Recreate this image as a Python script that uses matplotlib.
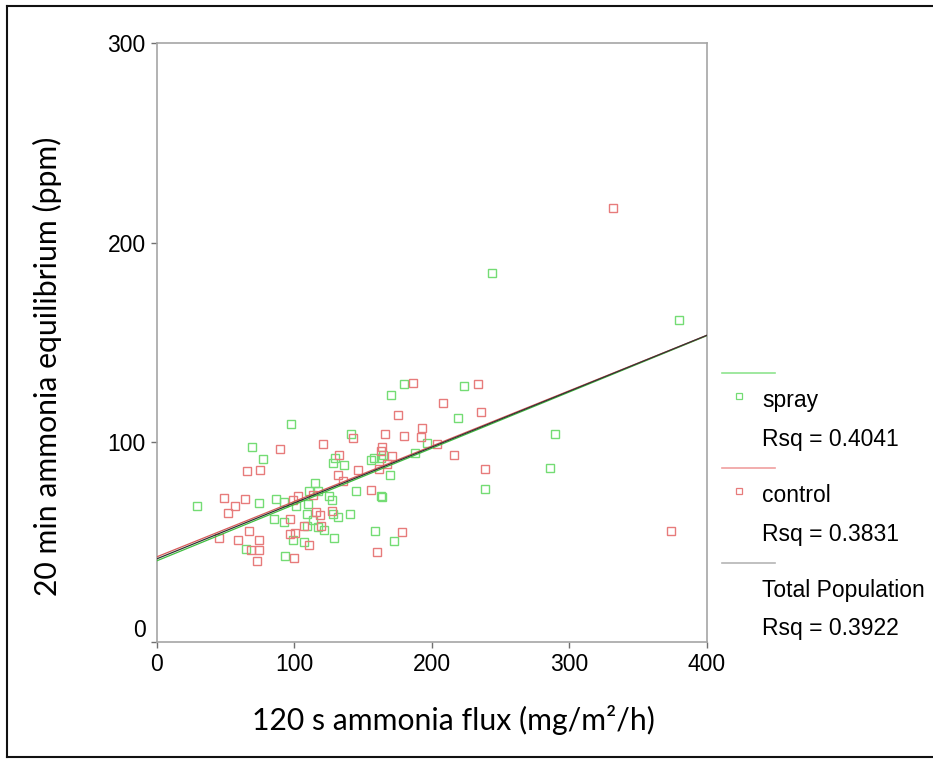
import matplotlib
matplotlib.use('Agg')
import matplotlib.pyplot as plt
from matplotlib.lines import Line2D

# ---- data ----
spray_x = [29.4, 64.6, 69.5, 74.5, 77.4, 85.2, 87.0, 92.5, 92.8, 93.5,
           97.9, 99.3, 101.5, 107.0, 109.4, 109.4, 110.0, 110.8, 113.5, 115.1,
           117.3, 117.5, 121.8, 125.3, 127.2, 128.2, 128.5, 129.7, 129.3, 131.9,
           136.0, 140.6, 141.2, 145.2, 155.7, 157.8, 159.1, 162.8, 163.2, 163.6,
           164.6, 169.8, 170.2, 172.9, 180.2, 187.9, 196.4, 219.0, 223.8, 239.1,
           243.7, 286.3, 290.0, 379.9]
spray_y = [68.0, 46.5, 97.6, 69.7, 91.6, 61.6, 71.6, 69.9, 60.2, 43.0,
           109.0, 50.8, 68.0, 50.0, 58.0, 63.8, 68.8, 75.4, 60.9, 79.5,
           57.4, 75.6, 55.9, 73.1, 71.0, 63.8, 89.4, 92.1, 52.1, 62.6,
           88.6, 64.0, 104.1, 75.6, 91.2, 92.0, 55.6, 91.9, 73.0, 72.6,
           93.8, 83.6, 123.6, 50.6, 128.9, 94.6, 99.6, 112.2, 128.0, 76.7,
           184.6, 87.1, 104.1, 161.0]

control_x = [45.2, 48.8, 51.6, 56.6, 59.1, 63.9, 65.5, 67.4, 68.9, 72.6,
             74.2, 74.4, 74.8, 89.6, 97.0, 97.0, 98.9, 99.5, 100.7, 103.1,
             107.2, 110.8, 114.0, 115.8, 118.6, 119.5, 121.1, 127.5, 131.8, 132.8,
             135.3, 142.9, 146.2, 156.0, 160.4, 161.7, 162.8, 163.8, 165.8, 167.6,
             171.3, 175.8, 178.1, 179.6, 186.5, 192.0, 192.7, 204.0, 208.5, 216.1,
             233.6, 236.0, 239.0, 331.7, 373.8]
control_y = [52.2, 72.0, 64.7, 68.2, 51.2, 71.5, 85.5, 55.6, 46.0, 40.2,
             51.1, 46.0, 86.1, 96.6, 61.5, 53.9, 70.9, 42.1, 54.6, 72.9,
             57.8, 48.6, 73.3, 65.1, 63.3, 58.2, 99.0, 65.5, 83.6, 93.6,
             80.7, 102.1, 86.1, 76.2, 45.0, 86.7, 95.7, 97.6, 104.2, 89.1,
             93.1, 113.5, 55.1, 103.3, 129.7, 102.6, 107.1, 99.1, 119.6, 93.7,
             129.0, 115.2, 86.6, 217.4, 55.4]

fit_names = ['spray', 'control', 'Total Population']
fit_intercepts = [40.5, 42.5, 41.5]
fit_slopes = [0.282, 0.2775, 0.280]
rsq_labels = ['Rsq = 0.4041', 'Rsq = 0.3831', 'Rsq = 0.3922']

x_ticks = [0, 100, 200, 300, 400]
y_ticks = [0, 100, 200, 300]
x_label = '120 s ammonia flux (mg/m\u00b2/h)'
y_label = '20 min ammonia equilibrium (ppm)'

# ---- styles ----
W, H = 933, 763
GREEN = '#74dc74'
RED = '#e77b7b'
GREEN_LINE = '#3fbf3f'
RED_LINE = '#d85a5a'
TOTAL_LINE = '#333333'
SPINE = '#a6a6a6'
TICK_FONT = 'Liberation Sans'
LABEL_FONT = 'Lato'

def fx(px):
    return px / W

def fy(py):
    return 1 - py / H

fig = plt.figure(figsize=(W / 100, H / 100), dpi=100)
fig.patch.set_facecolor('white')
ax = fig.add_axes([fx(156.7), fy(641.7), (706.7 - 156.7) / W, (641.7 - 43) / H])

ax.plot(spray_x, spray_y, linestyle='none', marker='s', ms=5.5, mfc='none',
        mec=GREEN, mew=1.0, zorder=3)
ax.plot(control_x, control_y, linestyle='none', marker='s', ms=5.5, mfc='none',
        mec=RED, mew=1.0, zorder=3)

line_colors = [GREEN_LINE, RED_LINE, TOTAL_LINE]
xs = [x_ticks[0], x_ticks[-1]]
for b, m, c in zip(fit_intercepts, fit_slopes, line_colors):
    ax.plot(xs, [b + m * v for v in xs], color=c, lw=0.9, zorder=4)

ax.set_xlim(x_ticks[0], x_ticks[-1])
ax.set_ylim(y_ticks[0], y_ticks[-1])
ax.set_xticks(x_ticks)
ax.set_yticks(y_ticks)
for s in ax.spines.values():
    s.set_color(SPINE)
    s.set_linewidth(1.2)
ax.tick_params(direction='out', length=4, width=1, color='#707070',
               labelsize=16.5, pad=4)
for lab in ax.get_xticklabels() + ax.get_yticklabels():
    lab.set_fontfamily(TICK_FONT)
ax.yaxis.get_major_ticks()[0].label1.set_verticalalignment('bottom')

fig.text(fx(453), fy(720), x_label, ha='center', va='center',
         fontsize=21.7, family=LABEL_FONT)
fig.text(fx(47), fy(366), y_label, ha='center', va='center', rotation=90,
         fontsize=21.7, family=LABEL_FONT)

# ---- legend (drawn to the right of the plot) ----
leg_line_colors = ['#8fe48f', '#f0a0a0', '#b5b5b5']
leg_marker_colors = [GREEN, RED, None]
line_y = [373, 467.5, 563]
name_y = [400, 495, 590]
rsq_y = [439, 534, 629]
for i in range(3):
    fig.add_artist(Line2D([fx(722), fx(775)], [fy(line_y[i])] * 2,
                          color=leg_line_colors[i], lw=1.2))
    if leg_marker_colors[i]:
        fig.add_artist(Line2D([fx(739)], [fy(name_y[i] - 4)], marker='s', ms=4,
                              mfc='none', mec=leg_marker_colors[i], mew=0.9))
    fig.text(fx(762), fy(name_y[i]), fit_names[i], ha='left', va='center',
             fontsize=16.5, family=TICK_FONT)
    fig.text(fx(762), fy(rsq_y[i]), rsq_labels[i], ha='left', va='center',
             fontsize=16.5, family=TICK_FONT)

# figure border (left, top, bottom; right edge is cropped in the reference)
for xs_b, ys_b in [([7, 7], [6, 757]), ([7, W], [6, 6]), ([7, W], [757, 757])]:
    fig.add_artist(Line2D([fx(v) for v in xs_b], [fy(v) for v in ys_b],
                          color='#111111', lw=1.5))

fig.savefig('out.png', dpi=100, facecolor='white')
